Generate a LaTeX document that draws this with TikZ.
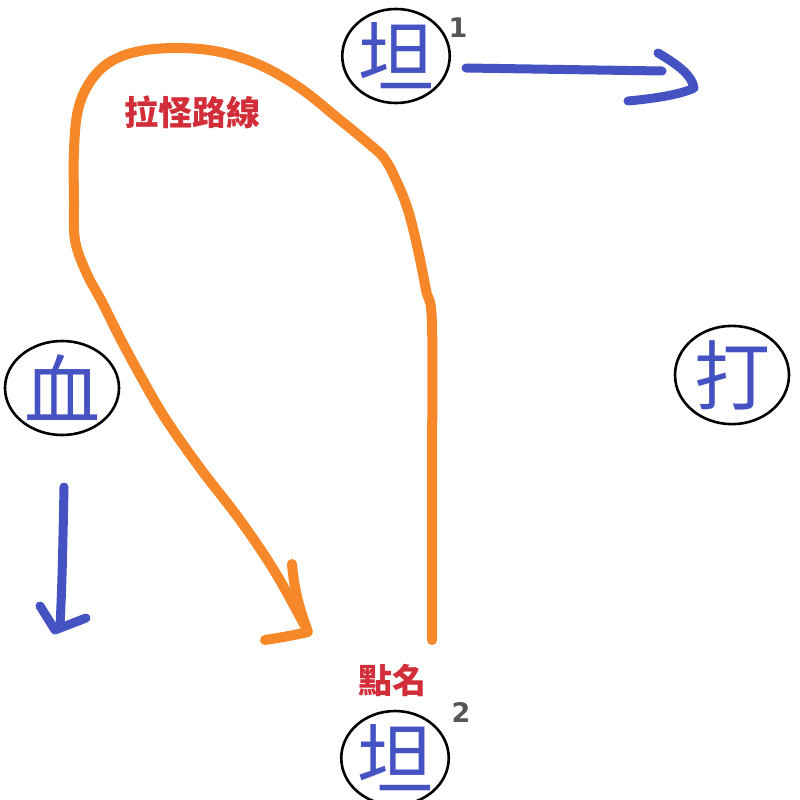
\documentclass[tikz,border=0pt]{standalone}
\usepackage{fontspec}
\newfontfamily\cjk{Noto Sans CJK TC}
\newfontfamily\supfont{DejaVu Sans}
\usetikzlibrary{shapes.geometric}
\definecolor{hblue}{HTML}{4452C2}
\definecolor{horange}{HTML}{F7882A}
\definecolor{hred}{HTML}{D22E3A}
\definecolor{hgray}{HTML}{555555}
\tikzset{
  circ/.style={draw=black, line width=2.6pt, ellipse, minimum width=#1, minimum height=94pt, inner sep=0pt, text=hblue, font=\cjk\fontsize{76}{76}\selectfont},
  sup/.style={text=hgray, font=\supfont\bfseries\fontsize{27}{27}\selectfont},
  lbl/.style={text=hred, font=\cjk\bfseries\fontsize{34}{34}\selectfont},
  bluestroke/.style={draw=hblue, line width=9pt, line cap=round, line join=round},
  orangestroke/.style={draw=horange, line width=10pt, line cap=round, line join=round},
}
\begin{document}
\begin{tikzpicture}[x=1pt,y=-1pt]
\useasboundingbox (0,0) rectangle (800,800);
\node[circ=104pt] (t1) at (396,56) {坦};
\node[circ=104pt] (t2) at (395,758) {坦};
\node[circ=114pt] (xue) at (62,388) {血};
\node[circ=114pt] (da) at (732,375) {打};
\node[sup, anchor=center] (s1) at (458,28) {1};
\node[sup, anchor=center] (s2) at (461,712) {2};
\node[lbl] (la) at (192,112) {拉怪路線};
\node[lbl] (dm) at (392,680) {點名};
% top blue arrow
\coordinate (a1s) at (466,68);
\coordinate (a1e) at (662,71);
\draw[bluestroke] (a1s) -- (a1e);
\draw[bluestroke] (658,53) .. controls (680,66) and (692,76) .. (694,88) .. controls (680,95) and (650,99) .. (628,101);
% left down arrow
\coordinate (a2s) at (64,487);
\coordinate (a2e) at (60,625);
\draw[bluestroke] (a2s) .. controls (63,540) and (62,590) .. (a2e);
\draw[bluestroke] (40,606) -- (55,630) -- (86,618);
% orange path
\draw[orangestroke] plot[smooth, tension=0.6] coordinates {
 (432,640) (432,480) (432,325) (426,290) (418,250) (408,210) (396,180) (384,158)
 (368,143) (340,120) (300,88) (260,65) (220,52) (180,48) (140,51) (110,62) (90,82)
 (78,110) (74,150) (74,200) (75,240) (86,272) (102,302) (120,338) (140,375) (165,418)
 (200,468) (240,520) (275,572) (306,628)};
\draw[orangestroke] (292,564) .. controls (294,590) and (300,610) .. (308,632) .. controls (290,636) and (278,638) .. (265,640);
\end{tikzpicture}
\end{document}
